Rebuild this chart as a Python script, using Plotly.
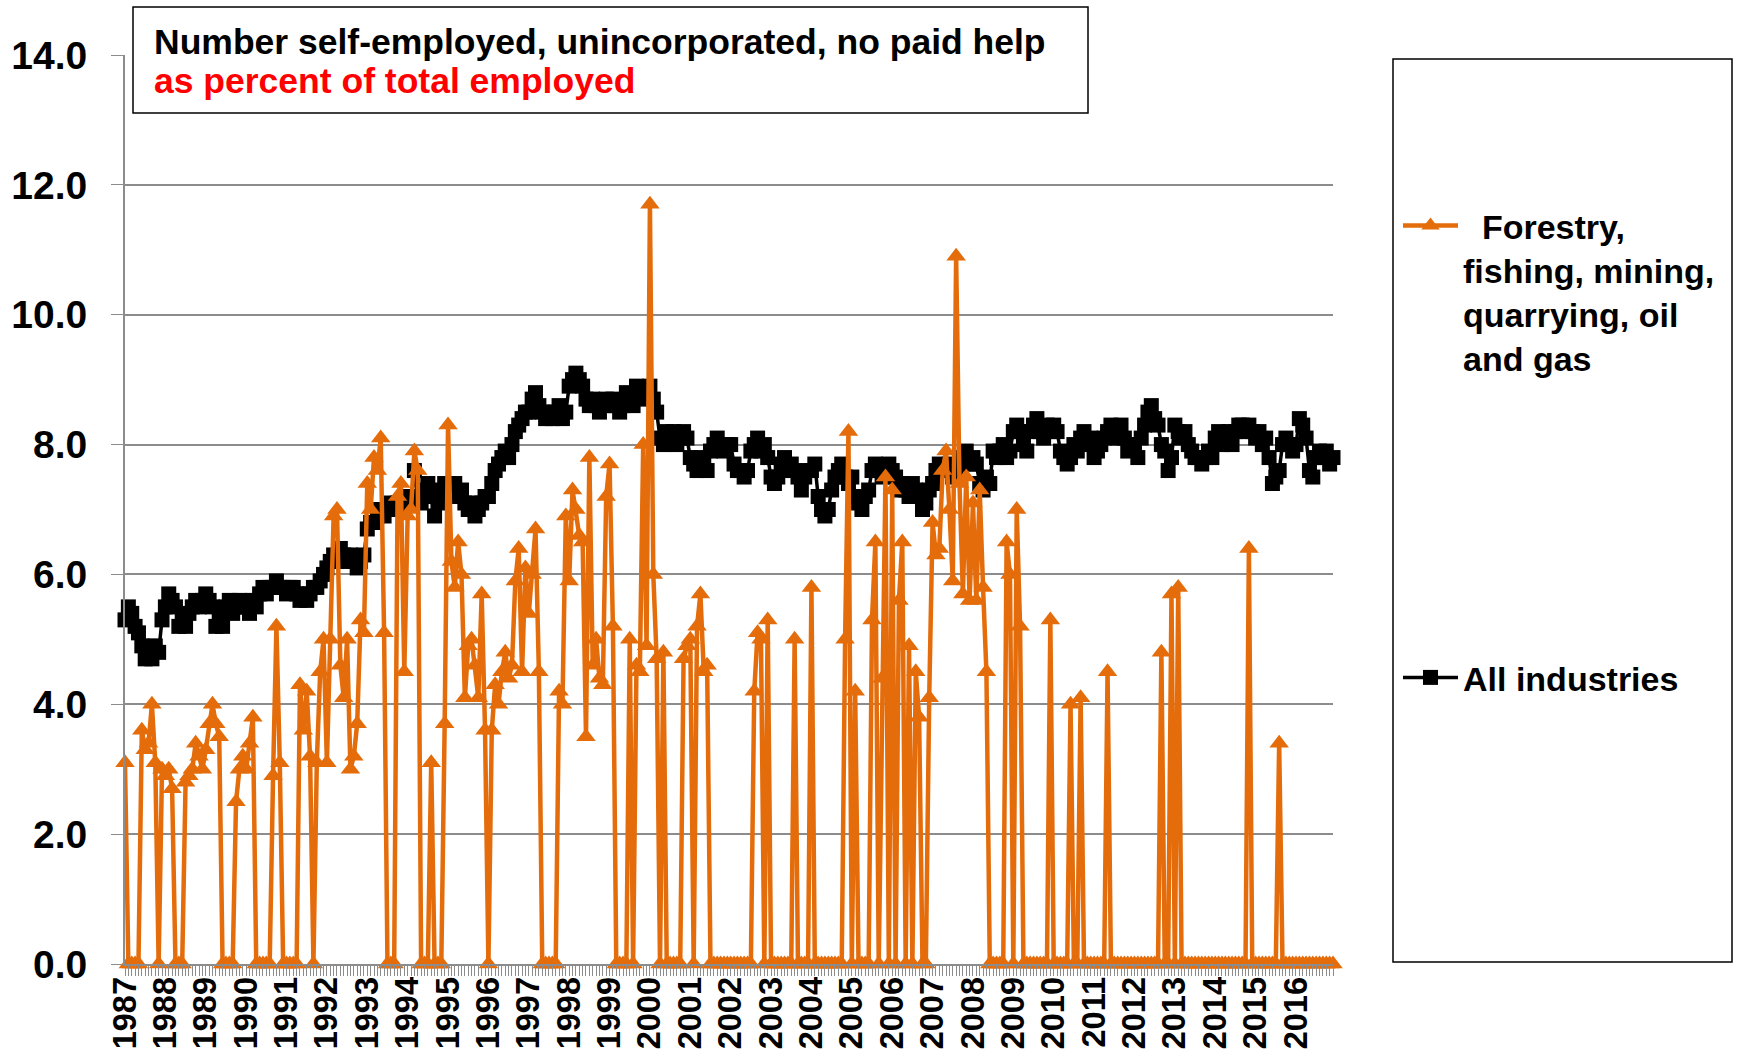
import plotly.graph_objects as go

years = ["1987", "1988", "1989", "1990", "1991", "1992", "1993", "1994", "1995", "1996",
         "1997", "1998", "1999", "2000", "2001", "2002", "2003", "2004", "2005", "2006",
         "2007", "2008", "2009", "2010", "2011", "2012", "2013", "2014", "2015", "2016"]

# All industries, monthly 1987-2016 (percent)
all_industries = [
    5.3, 5.5, 5.4, 5.2, 5.1, 4.9, 4.7, 4.8, 4.7, 4.9, 4.8, 5.3,
    5.5, 5.7, 5.6, 5.5, 5.2, 5.3, 5.2, 5.4, 5.5, 5.6, 5.5, 5.6,
    5.7, 5.6, 5.5, 5.2, 5.3, 5.2, 5.5, 5.6, 5.4, 5.5, 5.6, 5.5,
    5.5, 5.4, 5.6, 5.5, 5.7, 5.8, 5.7, 5.8, 5.8, 5.9, 5.8, 5.8,
    5.7, 5.8, 5.8, 5.7, 5.6, 5.7, 5.6, 5.7, 5.8, 5.8, 5.9, 6.0,
    6.1, 6.2, 6.3, 6.2, 6.4, 6.3, 6.2, 6.3, 6.2, 6.1, 6.2, 6.3,
    6.7, 6.8, 6.8, 6.9, 7.0, 6.9, 7.0, 7.1, 7.0, 7.1, 7.0, 7.1,
    7.2, 7.1, 7.6, 7.2, 7.1, 7.3, 7.4, 7.2, 6.9, 7.1, 7.3, 7.4,
    7.4, 7.3, 7.4, 7.2, 7.3, 7.1, 7.0, 7.1, 6.9, 7.0, 7.1, 7.2,
    7.2, 7.4, 7.6, 7.7, 7.8, 7.9, 7.8, 8.0, 8.2, 8.3, 8.4, 8.5,
    8.5, 8.7, 8.8, 8.6, 8.5, 8.4, 8.5, 8.4, 8.5, 8.6, 8.4, 8.5,
    8.9, 9.0, 9.1, 9.0, 8.9, 8.7, 8.6, 8.7, 8.6, 8.5, 8.6, 8.7,
    8.6, 8.7, 8.6, 8.5, 8.6, 8.8, 8.7, 8.6, 8.9, 8.8, 8.7, 8.8,
    8.9, 8.7, 8.5, 8.1, 8.0, 8.2, 8.1, 8.2, 8.0, 8.1, 8.2, 8.1,
    7.8, 7.7, 7.6, 7.8, 7.7, 7.6, 7.9, 8.0, 8.1, 8.0, 7.9, 8.0,
    8.0, 7.7, 7.6, 7.6, 7.5, 7.6, 7.9, 8.0, 8.1, 7.9, 8.0, 7.8,
    7.5, 7.4, 7.5, 7.7, 7.8, 7.6, 7.7, 7.6, 7.5, 7.3, 7.5, 7.6,
    7.6, 7.7, 7.2, 7.0, 6.9, 7.0, 7.3, 7.5, 7.6, 7.7, 7.5, 7.4,
    7.5, 7.2, 7.1, 7.0, 7.2, 7.3, 7.6, 7.7, 7.6, 7.5, 7.6, 7.7,
    7.6, 7.5, 7.3, 7.4, 7.3, 7.2, 7.4, 7.3, 7.2, 7.0, 7.1, 7.3,
    7.4, 7.6, 7.7, 7.6, 7.6, 7.7, 7.5, 7.6, 7.7, 7.8, 7.9, 7.7,
    7.8, 7.7, 7.4, 7.3, 7.5, 7.4, 7.9, 7.8, 7.9, 8.0, 7.8, 7.9,
    8.2, 8.3, 8.2, 8.0, 7.9, 8.2, 8.3, 8.4, 8.2, 8.1, 8.3, 8.2,
    8.3, 8.2, 7.9, 7.8, 7.7, 7.8, 8.0, 7.9, 8.1, 8.2, 8.0, 8.1,
    7.8, 7.9, 8.0, 8.1, 8.2, 8.3, 8.2, 8.1, 8.3, 8.1, 7.9, 8.0,
    8.0, 7.8, 8.1, 8.3, 8.5, 8.6, 8.4, 8.3, 8.0, 7.9, 7.6, 7.8,
    8.3, 8.2, 8.1, 8.2, 8.0, 7.9, 7.8, 7.8, 7.7, 7.8, 7.9, 7.8,
    8.1, 8.2, 8.0, 8.1, 8.2, 8.0, 8.2, 8.3, 8.3, 8.2, 8.3, 8.2,
    8.1, 8.2, 8.0, 8.1, 7.8, 7.4, 7.5, 7.6, 8.0, 8.1, 8.0, 7.9,
    8.0, 8.4, 8.3, 8.1, 7.6, 7.5, 7.8, 7.9, 7.8, 7.9, 7.7, 7.8,
]

# Forestry, fishing, mining, quarrying, oil and gas, monthly 1987-2016 (percent)
forestry = [
    3.1, 0, 0, 0, 0, 3.6, 3.3, 3.4, 4.0, 3.1, 0, 3.0,
    2.9, 3.0, 2.7, 0, 0, 0, 2.8, 2.9, 3.0, 3.4, 3.2, 3.0,
    3.3, 3.7, 4.0, 3.7, 3.5, 0, 0, 0, 0, 2.5, 3.0, 3.2,
    3.0, 3.4, 3.8, 0, 0, 0, 0, 0, 2.9, 5.2, 3.1, 0,
    0, 0, 0, 0, 4.3, 3.6, 4.2, 3.2, 0, 3.1, 4.5, 5.0,
    3.1, 5.0, 6.9, 7.0, 4.6, 4.1, 5.0, 3.0, 3.2, 3.7, 5.3, 5.1,
    7.4, 7.0, 7.8, 7.6, 8.1, 5.1, 0, 0, 0, 7.2, 7.4, 4.5,
    6.9, 7.0, 7.9, 7.6, 0, 0, 0, 3.1, 0, 0, 0, 3.7,
    8.3, 6.2, 5.8, 6.5, 6.0, 4.1, 4.9, 5.0, 4.6, 4.1, 5.7, 3.6,
    0, 3.6, 4.3, 4.0, 4.5, 4.8, 4.4, 4.6, 5.9, 6.4, 4.5, 6.1,
    5.4, 6.0, 6.7, 4.5, 0, 0, 0, 0, 0, 4.2, 4.0, 6.9,
    5.9, 7.3, 7.0, 6.6, 6.5, 3.5, 7.8, 4.6, 5.0, 4.4, 4.3, 7.2,
    7.7, 5.2, 0, 0, 0, 0, 5.0, 0, 4.6, 4.5, 8.0, 4.9,
    11.7, 6.0, 4.7, 0, 4.8, 0, 0, 0, 0, 0, 4.7, 4.9,
    5.0, 0, 5.2, 5.7, 4.5, 4.6, 0, 0, 0, 0, 0, 0,
    0, 0, 0, 0, 0, 0, 0, 4.2, 5.1, 5.0, 0, 5.3,
    0, 0, 0, 0, 0, 0, 0, 5.0, 0, 0, 0, 0,
    5.8, 0, 0, 0, 0, 0, 0, 0, 0, 0, 5.0, 8.2,
    0, 4.2, 0, 0, 0, 0, 5.3, 6.5, 0, 4.4, 7.5, 0,
    7.3, 0, 5.6, 6.5, 0, 4.9, 0, 4.5, 3.8, 0, 0, 4.1,
    6.8, 6.3, 6.4, 7.6, 7.9, 7.0, 5.9, 10.9, 7.4, 5.7, 7.5, 5.6,
    7.1, 5.6, 7.3, 5.8, 4.5, 0, 0, 0, 0, 0, 6.5, 6.0,
    0, 7.0, 5.2, 0, 0, 0, 0, 0, 0, 0, 0, 5.3,
    0, 0, 0, 0, 0, 4.0, 0, 0, 4.1, 0, 0, 0,
    0, 0, 0, 0, 4.5, 0, 0, 0, 0, 0, 0, 0,
    0, 0, 0, 0, 0, 0, 0, 0, 4.8, 0, 0, 5.7,
    0, 5.8, 0, 0, 0, 0, 0, 0, 0, 0, 0, 0,
    0, 0, 0, 0, 0, 0, 0, 0, 0, 0, 6.4, 0,
    0, 0, 0, 0, 0, 0, 0, 3.4, 0, 0, 0, 0,
    0, 0, 0, 0, 0, 0, 0, 0, 0, 0, 0, 0,
]

months = list(range(len(all_industries)))
year_ticks = [12 * i for i in range(len(years))]

FONT = "Liberation Sans, Arial, sans-serif"
ORANGE = "#E46C0A"
GRAY = "#8C8C8C"

W, H = 1741, 1052
L, R, T, B = 125, 408, 55, 88
pw, ph = W - L - R, H - T - B


def px(x):
    return (x - L) / pw


def py(y):
    return (H - B - y) / ph


fig = go.Figure()

fig.add_trace(go.Scatter(
    x=months, y=all_industries, mode="lines+markers", name="All industries",
    legendgroup="b", legendrank=2,
    line=dict(color="black", width=3.5),
    marker=dict(symbol="square", size=15, color="black"),
    cliponaxis=False,
))
fig.add_trace(go.Scatter(
    x=months, y=forestry, mode="lines+markers",
    name="\u00a0\u00a0Forestry,<br>fishing, mining,<br>quarrying, oil<br>and gas",
    legendgroup="a", legendrank=1,
    line=dict(color=ORANGE, width=4.5),
    marker=dict(symbol="triangle-up", size=17, color=ORANGE),
    cliponaxis=False,
))

fig.update_layout(
    template="none",
    width=W, height=H,
    margin=dict(l=L, r=R, t=T, b=B, pad=0, autoexpand=False),
    paper_bgcolor="white", plot_bgcolor="white",
    font=dict(family=FONT, color="black"),
    showlegend=True,
    legend=dict(
        xref="container", yref="container",
        x=1398 / W, y=(H - 197) / H, xanchor="left", yanchor="top",
        font=dict(family=FONT, size=34, weight="bold", color="black"),
        bgcolor="rgba(0,0,0,0)", borderwidth=0,
        tracegroupgap=272, valign="top", itemwidth=55,
    ),
    xaxis=dict(
        automargin=False,
        range=[0, len(months) - 1],
        tickmode="array", tickvals=year_ticks, ticktext=years,
        tickangle=-90, ticks="outside", ticklen=10, tickcolor=GRAY, tickwidth=1,
        ticklabelstandoff=-12,
        tickfont=dict(family=FONT, size=32.5, weight="bold", color="black"),
        minor=dict(tickmode="linear", tick0=0, dtick=1, ticks="outside",
                   ticklen=10, tickcolor=GRAY, tickwidth=1, showgrid=False),
        showline=True, linecolor=GRAY, linewidth=2,
        showgrid=False, zeroline=False,
    ),
    yaxis=dict(
        automargin=False,
        range=[0, 14], dtick=2, tick0=0, tickformat=".1f",
        ticks="outside", ticklen=12, tickcolor=GRAY, tickwidth=1,
        ticklabelstandoff=16,
        tickfont=dict(family=FONT, size=39, weight="bold", color="black"),
        showline=True, linecolor=GRAY, linewidth=2,
        showgrid=True, gridcolor=GRAY, gridwidth=1.5, zeroline=False,
    ),
    shapes=[
        dict(type="rect", xref="paper", yref="paper",
             x0=px(133), x1=px(1088), y0=py(113), y1=py(7),
             line=dict(color="black", width=1.5), fillcolor="white", layer="above"),
        dict(type="rect", xref="paper", yref="paper",
             x0=px(1393), x1=px(1732), y0=py(962), y1=py(59),
             line=dict(color="black", width=1.5), fillcolor="rgba(0,0,0,0)", layer="above"),
    ],
    annotations=[
        dict(xref="paper", yref="paper", x=px(152), y=py(42), xanchor="left", yanchor="middle",
             align="left", showarrow=False,
             text="Number self-employed, unincorporated, no paid help",
             font=dict(family=FONT, size=35.5, weight="bold", color="black")),
        dict(xref="paper", yref="paper", x=px(152), y=py(81), xanchor="left", yanchor="middle",
             align="left", showarrow=False,
             text="as percent of total employed",
             font=dict(family=FONT, size=35.5, weight="bold", color="#FF0000")),
    ],
)

fig.write_html(
    "out.html",
    config={"displayModeBar": False},
    post_script="document.body.style.margin='0px';document.body.style.overflow='hidden';",
)
